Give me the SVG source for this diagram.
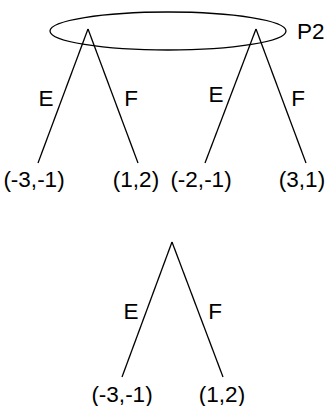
<svg xmlns="http://www.w3.org/2000/svg" width="331" height="406" viewBox="0 0 331 406">
<style>
text{font-family:"Liberation Sans",Arial,sans-serif;font-size:22.5px;fill:#000}
.m{text-anchor:middle}
line,ellipse{stroke:#000;stroke-width:1.3;fill:none}
</style>
<rect width="331" height="406" fill="#fff"/>
<g id="connectors">
<line x1="88" y1="29" x2="38" y2="163"/>
<line x1="88" y1="29" x2="138" y2="163"/>
<line x1="256" y1="29" x2="205" y2="163"/>
<line x1="256" y1="29" x2="306" y2="163"/>
<line x1="172" y1="242" x2="122" y2="377"/>
<line x1="172" y1="242" x2="223" y2="377"/>
</g>
<g id="infoset">
<ellipse cx="168" cy="31" rx="118" ry="19"/>
<text x="297" y="39">P2</text>
</g>
<g id="labels">
<text class="m" x="46" y="106">E</text>
<text class="m" x="131" y="106">F</text>
<text class="m" x="216" y="102">E</text>
<text class="m" x="298" y="106">F</text>
<text class="m" x="131" y="319">E</text>
<text class="m" x="215" y="319">F</text>
</g>
<g id="leaf1"><text class="m" x="34" y="187">(-3,-1)</text></g>
<g id="leaf2"><text class="m" x="136" y="187">(1,2)</text></g>
<g id="leaf3"><text class="m" x="201" y="187">(-2,-1)</text></g>
<g id="leaf4"><text class="m" x="302" y="187">(3,1)</text></g>
<g id="leaf5"><text class="m" x="122" y="402">(-3,-1)</text></g>
<g id="leaf6"><text class="m" x="222" y="402">(1,2)</text></g>
</svg>
